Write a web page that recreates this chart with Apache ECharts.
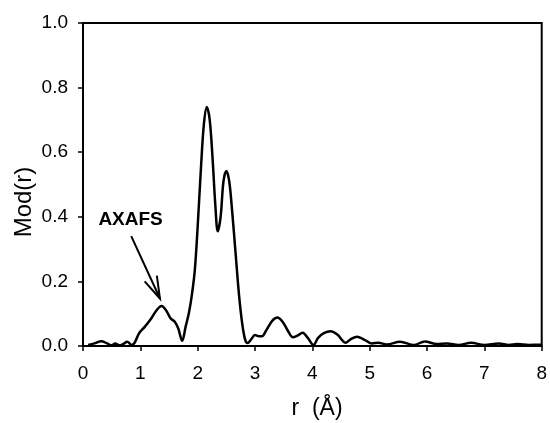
<!DOCTYPE html>
<html>
<head>
<meta charset="utf-8">
<script src="https://cdn.jsdelivr.net/npm/echarts@6/dist/echarts.min.js"></script>
<style>html,body{margin:0;padding:0;background:#fff}#c{width:550px;height:423px}</style>
</head>
<body>
<div id="c"></div>
<script>
const rValues = [0.09,0.20,0.32,0.42,0.50,0.56,0.63,0.70,0.77,0.85,0.90,0.98,1.08,1.19,1.28,1.37,1.45,1.53,1.60,1.66,1.73,1.79,1.85,1.90,1.95,2.00,2.06,2.11,2.16,2.21,2.26,2.31,2.35,2.40,2.45,2.50,2.55,2.60,2.66,2.72,2.78,2.83,2.87,2.93,3.00,3.07,3.12,3.20,3.30,3.39,3.48,3.58,3.66,3.74,3.83,3.92,4.02,4.10,4.20,4.32,4.44,4.52,4.58,4.66,4.78,4.90,5.00,5.04,5.15,5.30,5.53,5.77,5.96,6.17,6.35,6.55,6.77,7.00,7.25,7.43,7.57,7.78,7.95,8.00];
const modValues = [0.003,0.008,0.015,0.008,0.002,0.008,0.002,0.006,0.013,0.003,0.010,0.040,0.060,0.085,0.110,0.124,0.110,0.085,0.075,0.055,0.016,0.060,0.105,0.160,0.235,0.370,0.560,0.690,0.740,0.700,0.580,0.430,0.355,0.400,0.510,0.542,0.510,0.420,0.290,0.160,0.065,0.018,0.009,0.020,0.034,0.030,0.030,0.050,0.078,0.088,0.075,0.045,0.027,0.032,0.041,0.025,0.003,0.025,0.040,0.046,0.035,0.018,0.010,0.020,0.029,0.020,0.010,0.008,0.010,0.005,0.013,0.003,0.014,0.006,0.008,0.003,0.010,0.003,0.008,0.003,0.006,0.003,0.004,0.004];
const xTicks = [0,1,2,3,4,5,6,7,8];
const yTicks = [0.0,0.2,0.4,0.6,0.8,1.0];
const annotationText = 'AXAFS';
const xName = 'r  (Å)';
const yName = 'Mod(r)';

const chart = echarts.init(document.getElementById('c'), null, {renderer:'canvas'});
const font = 'Liberation Sans, Arial, sans-serif';
const option = {
  animation: false,
  grid: {left:83, right:4, top:23, bottom:77, show:true, borderColor:'#000', borderWidth:2, backgroundColor:'transparent'},
  xAxis: {
    type:'value', min:xTicks[0], max:xTicks[xTicks.length-1], interval:1,
    axisLine:{show:true, onZero:false, lineStyle:{color:'#000', width:2}},
    axisTick:{show:true, inside:false, length:5, lineStyle:{color:'#000', width:1.5}},
    axisLabel:{color:'#000', fontSize:19, fontFamily:font, margin:18},
    splitLine:{show:false}
  },
  yAxis: {
    type:'value', min:yTicks[0], max:yTicks[yTicks.length-1], interval:0.2,
    axisLine:{show:true, lineStyle:{color:'#000', width:2}},
    axisTick:{show:true, inside:false, length:5, lineStyle:{color:'#000', width:1.5}},
    axisLabel:{color:'#000', fontSize:19, fontFamily:font, margin:15, formatter:v=>v.toFixed(1)},
    splitLine:{show:false}
  },
  series: [{
    type:'line', data: rValues.map((r,i)=>[r, modValues[i]]),
    showSymbol:false, smooth:0.35, lineStyle:{color:'#000', width:2.5}, silent:true
  }]
};
chart.setOption(option);

const tip = chart.convertToPixel({gridIndex:0}, [1.342, 0.147]);
const start = chart.convertToPixel({gridIndex:0}, [0.841, 0.340]);
const dx = start[0]-tip[0], dy = start[1]-tip[1];
const len = Math.hypot(dx,dy);
const ux = dx/len, uy = dy/len;
const ang = 17*Math.PI/180, armLen = 23;
function rot(a){return [tip[0]+armLen*(ux*Math.cos(a)-uy*Math.sin(a)), tip[1]+armLen*(ux*Math.sin(a)+uy*Math.cos(a))];}
const a1 = rot(ang), a2 = rot(-ang);
const lab = chart.convertToPixel({gridIndex:0}, [0.83, 0.39]);

chart.setOption({graphic:[
  {type:'line', shape:{x1:start[0],y1:start[1],x2:tip[0],y2:tip[1]}, style:{stroke:'#000', lineWidth:2}},
  {type:'polyline', shape:{points:[a1, tip, a2]}, style:{stroke:'#000', lineWidth:2, fill:null}},
  {type:'text', x:lab[0], y:lab[1], style:{text:annotationText, font:'bold 19px '+font, fill:'#000', textAlign:'center', textVerticalAlign:'middle'}},
  {type:'text', x:317, y:409, style:{text:xName, font:'23px '+font, fill:'#000', textAlign:'center', textVerticalAlign:'middle'}},
  {type:'text', x:24, y:202, rotation:Math.PI/2, style:{text:yName, font:'24px '+font, fill:'#000', textAlign:'center', textVerticalAlign:'middle'}}
]});
</script>
</body>
</html>
